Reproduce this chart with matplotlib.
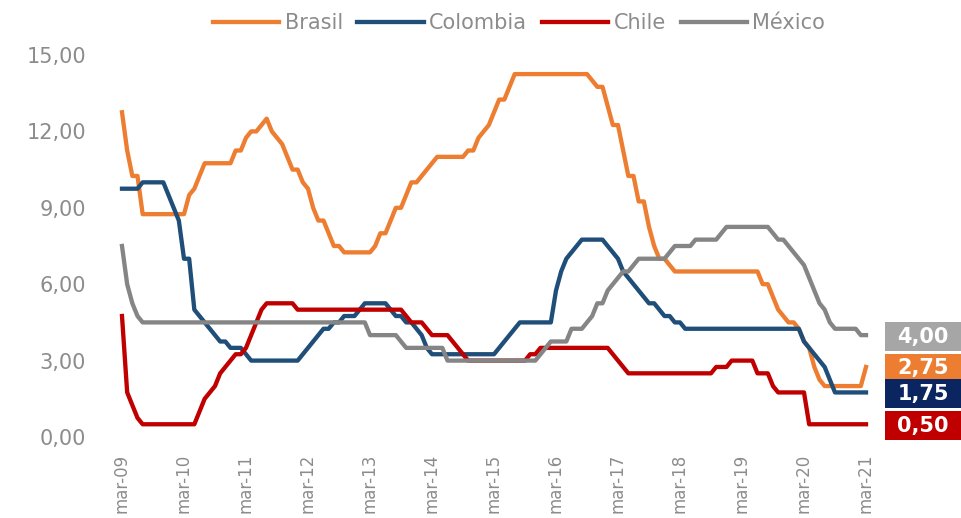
import matplotlib.pyplot as plt
import matplotlib.transforms as mtransforms
from matplotlib.patches import Rectangle

# monthly policy rates, mar-09 .. mar-21
brasil = [
    12.75, 11.25, 10.25, 10.25, 8.75, 8.75, 8.75, 8.75, 8.75, 8.75, 8.75, 8.75,
    8.75, 9.5, 9.75, 10.25, 10.75, 10.75, 10.75, 10.75, 10.75, 10.75, 11.25, 11.25,
    11.75, 12.0, 12.0, 12.25, 12.5, 12.0, 11.75, 11.5, 11.0, 10.5, 10.5, 10.0,
    9.75, 9.0, 8.5, 8.5, 8.0, 7.5, 7.5, 7.25, 7.25, 7.25, 7.25, 7.25,
    7.25, 7.5, 8.0, 8.0, 8.5, 9.0, 9.0, 9.5, 10.0, 10.0, 10.25, 10.5,
    10.75, 11.0, 11.0, 11.0, 11.0, 11.0, 11.0, 11.25, 11.25, 11.75, 12.0, 12.25,
    12.75, 13.25, 13.25, 13.75, 14.25, 14.25, 14.25, 14.25, 14.25, 14.25, 14.25, 14.25,
    14.25, 14.25, 14.25, 14.25, 14.25, 14.25, 14.25, 14.0, 13.75, 13.75, 13.0, 12.25,
    12.25, 11.25, 10.25, 10.25, 9.25, 9.25, 8.25, 7.5, 7.0, 7.0, 6.75, 6.5,
    6.5, 6.5, 6.5, 6.5, 6.5, 6.5, 6.5, 6.5, 6.5, 6.5, 6.5, 6.5,
    6.5, 6.5, 6.5, 6.5, 6.0, 6.0, 5.5, 5.0, 4.75, 4.5, 4.5, 4.25,
    3.75, 3.5, 2.75, 2.25, 2.0, 2.0, 2.0, 2.0, 2.0, 2.0, 2.0, 2.0,
    2.75,
]
colombia = [
    9.75, 9.75, 9.75, 9.75, 10.0, 10.0, 10.0, 10.0, 10.0, 9.5, 9.0, 8.5,
    7.0, 7.0, 5.0, 4.75, 4.5, 4.25, 4.0, 3.75, 3.75, 3.5, 3.5, 3.5,
    3.25, 3.0, 3.0, 3.0, 3.0, 3.0, 3.0, 3.0, 3.0, 3.0, 3.0, 3.25,
    3.5, 3.75, 4.0, 4.25, 4.25, 4.5, 4.5, 4.75, 4.75, 4.75, 5.0, 5.25,
    5.25, 5.25, 5.25, 5.25, 5.0, 4.75, 4.75, 4.5, 4.5, 4.25, 4.0, 3.5,
    3.25, 3.25, 3.25, 3.25, 3.25, 3.25, 3.25, 3.25, 3.25, 3.25, 3.25, 3.25,
    3.25, 3.5, 3.75, 4.0, 4.25, 4.5, 4.5, 4.5, 4.5, 4.5, 4.5, 4.5,
    5.75, 6.5, 7.0, 7.25, 7.5, 7.75, 7.75, 7.75, 7.75, 7.75, 7.5, 7.25,
    7.0, 6.5, 6.25, 6.0, 5.75, 5.5, 5.25, 5.25, 5.0, 4.75, 4.75, 4.5,
    4.5, 4.25, 4.25, 4.25, 4.25, 4.25, 4.25, 4.25, 4.25, 4.25, 4.25, 4.25,
    4.25, 4.25, 4.25, 4.25, 4.25, 4.25, 4.25, 4.25, 4.25, 4.25, 4.25, 4.25,
    3.75, 3.5, 3.25, 3.0, 2.75, 2.25, 1.75, 1.75, 1.75, 1.75, 1.75, 1.75,
    1.75,
]
chile = [
    4.75, 1.75, 1.25, 0.75, 0.5, 0.5, 0.5, 0.5, 0.5, 0.5, 0.5, 0.5,
    0.5, 0.5, 0.5, 1.0, 1.5, 1.75, 2.0, 2.5, 2.75, 3.0, 3.25, 3.25,
    3.5, 4.0, 4.5, 5.0, 5.25, 5.25, 5.25, 5.25, 5.25, 5.25, 5.0, 5.0,
    5.0, 5.0, 5.0, 5.0, 5.0, 5.0, 5.0, 5.0, 5.0, 5.0, 5.0, 5.0,
    5.0, 5.0, 5.0, 5.0, 5.0, 5.0, 5.0, 4.75, 4.5, 4.5, 4.5, 4.25,
    4.0, 4.0, 4.0, 4.0, 3.75, 3.5, 3.25, 3.0, 3.0, 3.0, 3.0, 3.0,
    3.0, 3.0, 3.0, 3.0, 3.0, 3.0, 3.0, 3.25, 3.25, 3.5, 3.5, 3.5,
    3.5, 3.5, 3.5, 3.5, 3.5, 3.5, 3.5, 3.5, 3.5, 3.5, 3.5, 3.25,
    3.0, 2.75, 2.5, 2.5, 2.5, 2.5, 2.5, 2.5, 2.5, 2.5, 2.5, 2.5,
    2.5, 2.5, 2.5, 2.5, 2.5, 2.5, 2.5, 2.75, 2.75, 2.75, 3.0, 3.0,
    3.0, 3.0, 3.0, 2.5, 2.5, 2.5, 2.0, 1.75, 1.75, 1.75, 1.75, 1.75,
    1.75, 0.5, 0.5, 0.5, 0.5, 0.5, 0.5, 0.5, 0.5, 0.5, 0.5, 0.5,
    0.5,
]
mexico = [
    7.5, 6.0, 5.25, 4.75, 4.5, 4.5, 4.5, 4.5, 4.5, 4.5, 4.5, 4.5,
    4.5, 4.5, 4.5, 4.5, 4.5, 4.5, 4.5, 4.5, 4.5, 4.5, 4.5, 4.5,
    4.5, 4.5, 4.5, 4.5, 4.5, 4.5, 4.5, 4.5, 4.5, 4.5, 4.5, 4.5,
    4.5, 4.5, 4.5, 4.5, 4.5, 4.5, 4.5, 4.5, 4.5, 4.5, 4.5, 4.5,
    4.0, 4.0, 4.0, 4.0, 4.0, 4.0, 3.75, 3.5, 3.5, 3.5, 3.5, 3.5,
    3.5, 3.5, 3.5, 3.0, 3.0, 3.0, 3.0, 3.0, 3.0, 3.0, 3.0, 3.0,
    3.0, 3.0, 3.0, 3.0, 3.0, 3.0, 3.0, 3.0, 3.0, 3.25, 3.5, 3.75,
    3.75, 3.75, 3.75, 4.25, 4.25, 4.25, 4.5, 4.75, 5.25, 5.25, 5.75, 6.0,
    6.25, 6.5, 6.5, 6.75, 7.0, 7.0, 7.0, 7.0, 7.0, 7.0, 7.25, 7.5,
    7.5, 7.5, 7.5, 7.75, 7.75, 7.75, 7.75, 7.75, 8.0, 8.25, 8.25, 8.25,
    8.25, 8.25, 8.25, 8.25, 8.25, 8.25, 8.0, 7.75, 7.75, 7.5, 7.25, 7.0,
    6.75, 6.25, 5.75, 5.25, 5.0, 4.5, 4.25, 4.25, 4.25, 4.25, 4.25, 4.0,
    4.0,
]

series_names = ["Brasil", "Colombia", "Chile", "México"]
line_colors = ["#ED7D31", "#1F4E79", "#C00000", "#858585"]
box_colors = ["#ED7D31", "#0B2560", "#C00000", "#A6A6A6"]

x_labels = ["mar-09", "mar-10", "mar-11", "mar-12", "mar-13", "mar-14", "mar-15",
            "mar-16", "mar-17", "mar-18", "mar-19", "mar-20", "mar-21"]
y_ticks = [0, 3, 6, 9, 12, 15]

text_gray = "#8C8C8C"
plt.rcParams["font.family"] = "DejaVu Sans"

fig = plt.figure(figsize=(9.61, 5.18), dpi=100)
ax = fig.add_axes([122 / 961, 1 - 437 / 518, 744 / 961, 382 / 518])

months = list(range(len(brasil)))
all_series = [brasil, colombia, chile, mexico]
handles = []
for name, vals, col in zip(series_names, all_series, line_colors):
    h, = ax.plot(months, vals, color=col, lw=3.1, label=name, clip_on=False,
                 solid_joinstyle="round")
    handles.append(h)

ax.set_xlim(0, len(brasil) - 1)
ax.set_ylim(0, 15)
ax.set_yticks(y_ticks)
ax.set_yticklabels([f"{v:.2f}".replace(".", ",") for v in y_ticks])
ax.set_xticks(range(0, len(brasil), 12))
ax.set_xticklabels(x_labels, rotation=90)
ax.tick_params(axis="y", length=0, pad=26, labelsize=15, labelcolor=text_gray)
ax.tick_params(axis="x", length=0, pad=12, labelsize=12, labelcolor=text_gray)
for s in ax.spines.values():
    s.set_visible(False)

# last-value tags on the right edge
trans = mtransforms.blended_transform_factory(ax.transAxes, ax.transData)
box_w = 76 / 744
box_h = 29 / 25.47
box_x = 885 / 744 - 122 / 744
order = [3, 0, 1, 2]
for k in order:
    last = all_series[k][-1]
    ax.add_patch(Rectangle((box_x, last - box_h / 2 - 0.06), box_w, box_h,
                           transform=trans, facecolor=box_colors[k],
                           edgecolor="none", clip_on=False))
    ax.text(box_x + box_w / 2, last - 0.06, f"{last:.2f}".replace(".", ","),
            transform=trans, ha="center", va="center", color="white",
            fontsize=15, fontweight="bold", clip_on=False)

fig.legend(handles=handles, loc="center", bbox_to_anchor=(0.54, 0.956), ncol=4,
           frameon=False, fontsize=15, labelcolor=text_gray, handlelength=3.2,
           handletextpad=0.25, columnspacing=0.7)

fig.savefig("out.png", dpi=100)
